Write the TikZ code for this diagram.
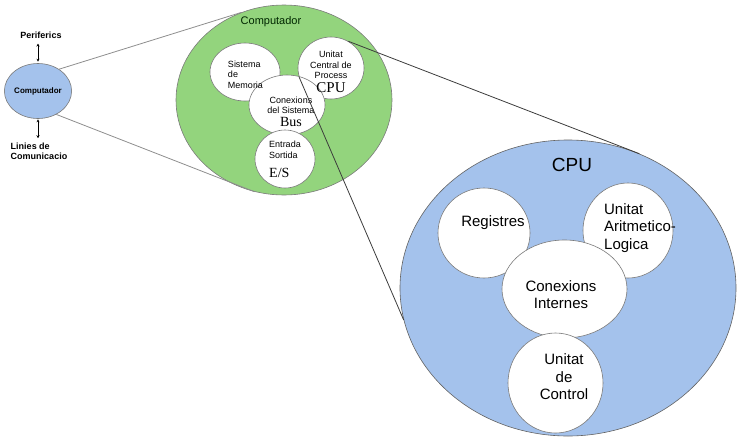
\documentclass[tikz,border=0pt]{standalone}
\usepackage{fontspec}
\setmainfont{Liberation Sans}
\newfontfamily\timesfont{Liberation Serif}
\usetikzlibrary{arrows.meta,shapes.geometric}
\definecolor{pcgreen}{HTML}{93D47D}
\definecolor{pcblue}{HTML}{A4C2EC}
\definecolor{pcedge}{HTML}{7A7A7A}
\definecolor{pczoom}{HTML}{8E8E8E}
\definecolor{pcdark}{HTML}{3C3C3C}

\begin{document}
\begin{tikzpicture}[
  x=1pt,
  y=-1pt,
  every node/.style={text=black},
  blob/.style={ellipse, draw=pcedge, line width=0.6pt, inner sep=0pt},
  part/.style={blob, fill=white},
  small/.style={font=\fontsize{9}{10.5}\selectfont, align=center, inner sep=0pt},
  big/.style={font=\fontsize{15}{17.5}\selectfont, align=center, inner sep=0pt},
  side/.style={font=\bfseries\fontsize{9}{9.5}\selectfont, inner sep=0pt},
  zoomline/.style={pczoom, line width=0.8pt},
  cpuline/.style={pcdark, line width=0.8pt},
  link/.style={black, line width=0.6pt,
    {Stealth[length=3pt,width=3pt]}-{Stealth[length=3pt,width=3pt]}}
]
  % ---- page: same size as the screenshot ---------------------------------
  \useasboundingbox (0,0) rectangle (737,437);

  % ---- the computer and what it talks to ---------------------------------
  \node[blob, fill=pcblue, minimum width=56pt, minimum height=55pt] (pc)
    at (38,91) {\bfseries\fontsize{8}{9}\selectfont Computador};
  \node[side] (perif) at (41,35) {Periferics};
  \node[side, align=left] (linies) at (39,151.5) {Linies de\\Comunicacio};
  \draw[link, shorten <=5pt, shorten >=1.5pt] (perif.south -| pc.north) -- (pc.north);
  \draw[link, shorten <=0.5pt, shorten >=5pt] (pc.south) -- (linies.north -| pc.south);

  % ---- first zoom: inside the computer -----------------------------------
  \node[blob, fill=pcgreen, minimum width=216pt, minimum height=190pt] (comp)
    at (284,100) {};
  \node[font=\fontsize{11}{11}\selectfont, text=black!85!green] (comp-t)
    at (271,22) {Computador};

  \node[part, minimum width=70pt, minimum height=58pt] (mem) at (245,72) {};
  \node[part, minimum width=66pt, minimum height=62pt] (ucp) at (331,68) {};
  \node[part, minimum width=76pt, minimum height=60pt] (bus) at (287,105) {};
  \node[part, minimum width=60pt, minimum height=58pt] (es) at (285,159) {};

  \node[small, align=left] (mem-t) at (245.5,74.5) {Sistema\\de\\Memoria};
  \node[small] (ucp-t) at (331,72)
    {Unitat\\Central de\\Process\\[3pt]{\timesfont\fontsize{15}{15}\selectfont CPU}};
  \node[small] (bus-t) at (291,112)
    {Conexions\\del Sistema\\[2.5pt]{\timesfont\fontsize{14}{14}\selectfont Bus}};
  \node[small, align=left] (es-t) at (285,159.5)
    {Entrada\\Sortida\\[9pt]{\timesfont\fontsize{14}{14}\selectfont E/S}};

  % ---- second zoom: inside the CPU ---------------------------------------
  \node[blob, fill=pcblue, draw=pcdark!80, minimum width=336pt, minimum height=296pt]
    (cpu) at (568,288) {};
  \node[font=\fontsize{19}{19}\selectfont] (cpu-t) at (572,165) {CPU};

  \node[part, minimum width=92pt, minimum height=90pt] (reg) at (484,233) {};
  \node[part, minimum width=90pt, minimum height=95pt] (alu) at (628,230.5) {};
  \node[part, minimum width=125pt, minimum height=98pt] (cint) at (564.5,289) {};
  \node[part, minimum width=95pt, minimum height=100pt] (ctrl) at (555.5,383) {};

  \node[big] (reg-t) at (493,223) {Registres};
  \node[big, align=left] (alu-t) at (640,228) {Unitat\\Aritmetico-\\Logica};
  \node[big] (cint-t) at (561,294.5) {Conexions\\Internes};
  \node[big] (ctrl-t) at (564,377) {Unitat\\de\\Control};

  % ---- zoom lines --------------------------------------------------------
  \draw[zoomline] (pc.46) -- (comp.116);
  \draw[zoomline] (pc.308) -- (comp.252);
  \draw[cpuline] (ucp.57) -- (cpu.62);
  \draw[cpuline] (ucp.196) -- (cpu.191.4);

\end{tikzpicture}
\end{document}
